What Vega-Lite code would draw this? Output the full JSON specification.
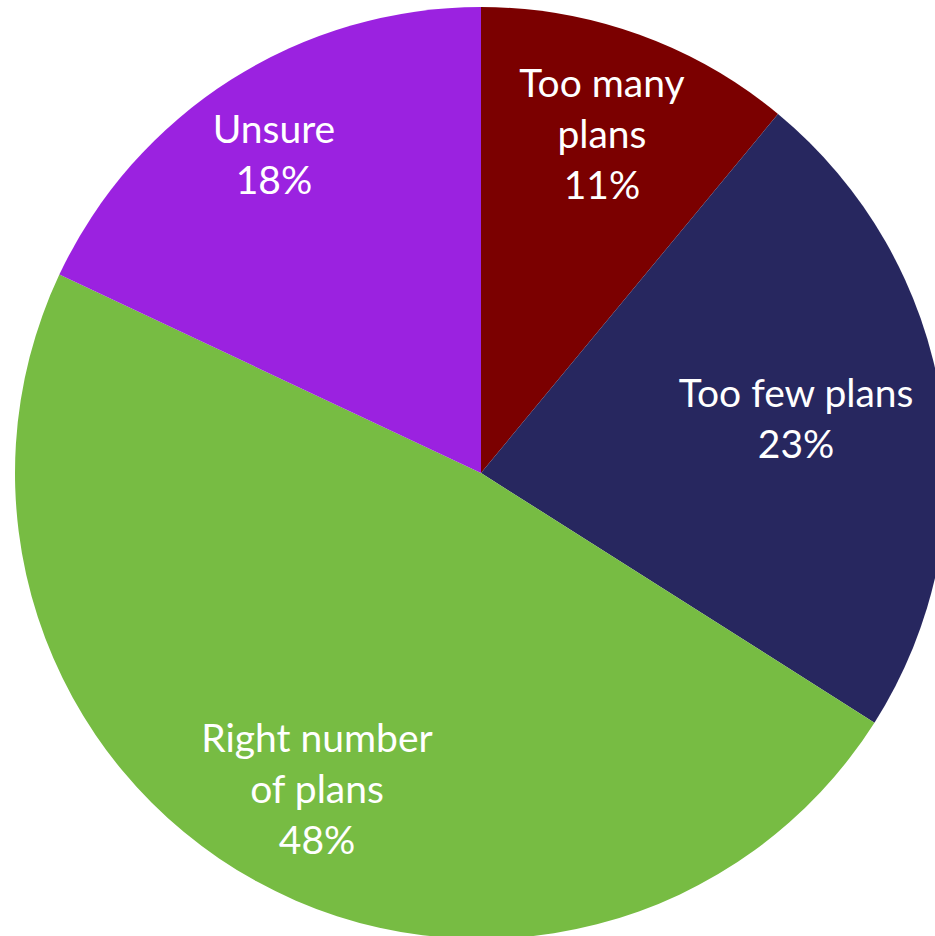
{
  "$schema": "https://vega.github.io/schema/vega-lite/v6.json",
  "autosize": "none",
  "padding": 0,
  "width": 962,
  "height": 946,
  "background": "white",
  "view": {"stroke": null},
  "data": {"values": [
    {"k": 1, "category": "Too many plans", "value": 11, "label": "Too many|plans|11%"},
    {"k": 2, "category": "Too few plans", "value": 23, "label": "Too few plans|23%"},
    {"k": 3, "category": "Right number of plans", "value": 48, "label": "Right number|of plans|48%"},
    {"k": 4, "category": "Unsure", "value": 18, "label": "Unsure|18%"}
  ]},
  "transform": [
    {"stack": "value", "groupby": [], "sort": [{"field": "k", "order": "ascending"}], "as": ["v0", "v1"]},
    {"calculate": "(datum.v0 + datum.v1) / 2", "as": "mid"}
  ],
  "layer": [
    {
      "mark": {"type": "arc", "outerRadius": 466},
      "encoding": {
        "theta": {"field": "v0", "type": "quantitative", "scale": {"domain": [0, 100]}},
        "theta2": {"field": "v1"},
        "color": {
          "field": "category", "type": "nominal", "legend": null,
          "scale": {
            "domain": ["Too many plans", "Too few plans", "Right number of plans", "Unsure"],
            "range": ["#7B0000", "#27275F", "#77BC43", "#9B22E0"]
          }
        }
      }
    },
    {
      "transform": [{"filter": "datum.k == 1"}],
      "mark": {"type": "text", "radius": 357, "dy": -52, "font": "Lato", "fontSize": 39, "color": "white", "lineBreak": "|", "lineHeight": 51, "baseline": "middle", "align": "center"},
      "encoding": {
        "theta": {"field": "mid", "type": "quantitative", "scale": {"domain": [0, 100]}},
        "text": {"field": "label"}
      }
    },
    {
      "transform": [{"filter": "datum.k == 3"}],
      "mark": {"type": "text", "radius": 357, "dx": 8, "dy": -46, "font": "Lato", "fontSize": 39, "color": "white", "lineBreak": "|", "lineHeight": 51, "baseline": "middle", "align": "center"},
      "encoding": {
        "theta": {"field": "mid", "type": "quantitative", "scale": {"domain": [0, 100]}},
        "text": {"field": "label"}
      }
    },
    {
      "transform": [{"filter": "datum.k == 2"}],
      "mark": {"type": "text", "radius": 319, "dy": -28, "font": "Lato", "fontSize": 39, "color": "white", "lineBreak": "|", "lineHeight": 51, "baseline": "middle", "align": "center"},
      "encoding": {
        "theta": {"field": "mid", "type": "quantitative", "scale": {"domain": [0, 100]}},
        "text": {"field": "label"}
      }
    },
    {
      "transform": [{"filter": "datum.k == 4"}],
      "mark": {"type": "text", "radius": 379, "dx": -4, "dy": -22, "font": "Lato", "fontSize": 39, "color": "white", "lineBreak": "|", "lineHeight": 51, "baseline": "middle", "align": "center"},
      "encoding": {
        "theta": {"field": "mid", "type": "quantitative", "scale": {"domain": [0, 100]}},
        "text": {"field": "label"}
      }
    }
  ]
}
